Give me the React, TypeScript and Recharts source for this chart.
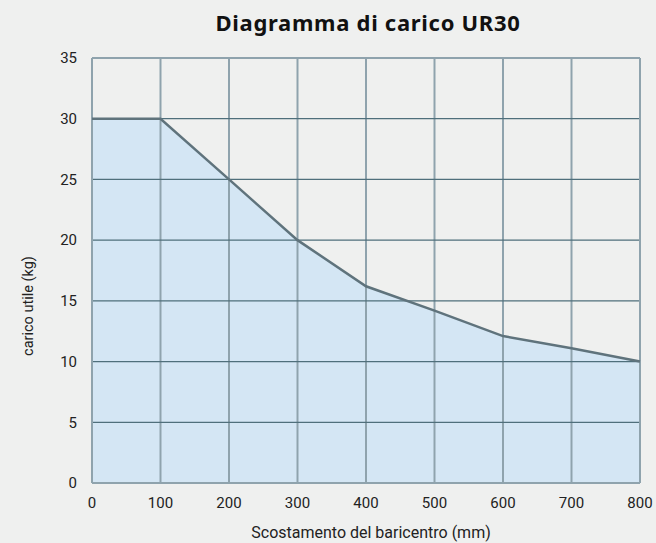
import React from "react";
import { ComposedChart, Area, Line, XAxis, YAxis, ReferenceLine } from "recharts";

const offsets = [0, 100, 200, 300, 400, 500, 600, 700, 800];
const loads = [30, 30, 25, 20, 16.2, 14.2, 12.1, 11.1, 10];
const xTicks = [0, 100, 200, 300, 400, 500, 600, 700, 800];
const yTicks = [0, 5, 10, 15, 20, 25, 30, 35];
const innerYLines = [5, 10, 15, 20, 25, 30];
const innerXLines = [100, 200, 300, 400, 500, 600, 700];
const borderX = [0, 800];
const borderY = [0, 35];

const data = offsets.map((x, i) => ({ x, y: loads[i] }));

const font = "Roboto, sans-serif";
const tickStyle = { fontFamily: font, fontSize: 15, fill: "#222" };

const XLabel = (props: any) => {
  const vb = props.viewBox || {};
  return (
    <text x={vb.x + vb.width / 2 + 5} y={538} textAnchor="middle" fontFamily={font} fontSize={16} fill="#222">
      Scostamento del baricentro (mm)
    </text>
  );
};

const YLabel = () => (
  <text
    x={0}
    y={0}
    transform="translate(33, 306) rotate(-90)"
    textAnchor="middle"
    fontFamily={font}
    fontSize={14.5}
    fill="#222"
  >
    carico utile (kg)
  </text>
);

export default function App() {
  return (
    <div style={{ position: "absolute", left: 0, top: 0, width: 656, height: 543, background: "#eff0ef", fontFamily: font }}>
      <div
        style={{
          position: "absolute",
          left: 92,
          width: 552,
          top: 6,
          textAlign: "center",
          fontFamily: "'Noto Sans', sans-serif",
          fontWeight: 700,
          fontSize: 22,
          letterSpacing: 0.7,
          color: "#111",
          lineHeight: "32px",
        }}
      >
        Diagramma di carico UR30
      </div>
      <ComposedChart width={656} height={543} data={data} margin={{ top: 58, right: 16, bottom: 0, left: 0 }}>
        <XAxis
          dataKey="x"
          type="number"
          domain={[0, 800]}
          ticks={xTicks}
          tickLine={false}
          axisLine={false}
          tickSize={0}
          tickMargin={14}
          tick={tickStyle}
          height={60}
          label={<XLabel />}
        />
        <YAxis
          type="number"
          domain={[0, 35]}
          ticks={yTicks}
          tickLine={false}
          axisLine={false}
          tickSize={0}
          tickMargin={15}
          tick={tickStyle}
          width={92}
          label={<YLabel />}
        />
        <Area dataKey="y" type="linear" stroke="none" fill="#d4e6f4" fillOpacity={1} isAnimationActive={false} />
        {innerXLines.map((v) => (
          <ReferenceLine key={"vx" + v} x={v} stroke="#8fa3ad" strokeWidth={2} />
        ))}
        {innerYLines.map((v) => (
          <ReferenceLine key={"hy" + v} y={v} stroke="#4f6f7b" strokeWidth={1.2} />
        ))}
        {borderX.map((v) => (
          <ReferenceLine key={"bx" + v} x={v} stroke="#8fa3ad" strokeWidth={2} />
        ))}
        {borderY.map((v) => (
          <ReferenceLine key={"by" + v} y={v} stroke="#8fa3ad" strokeWidth={2} />
        ))}
        <Line dataKey="y" type="linear" stroke="#5f737c" strokeWidth={2.5} dot={false} isAnimationActive={false} />
      </ComposedChart>
    </div>
  );
}
